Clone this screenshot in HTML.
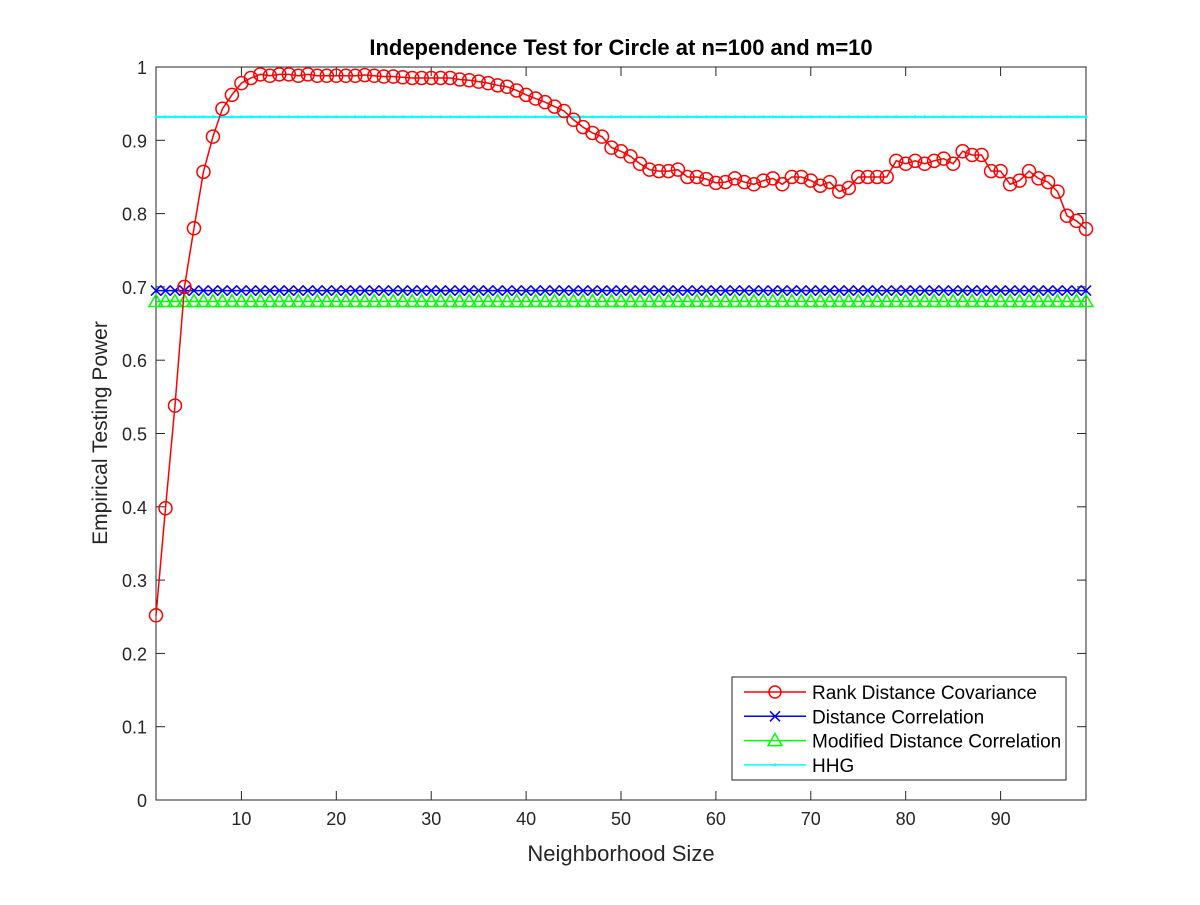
<!DOCTYPE html>
<html><head><meta charset="utf-8"><style>
body{margin:0;background:#fff;}
svg text{font-family:"Liberation Sans",sans-serif;}
</style></head><body>
<svg id="chart" width="1200" height="900" xmlns="http://www.w3.org/2000/svg">
<rect width="1200" height="900" fill="#fff"/>
<g id="plot"></g>
<text x="621" y="55" text-anchor="middle" font-size="22" font-weight="bold">Independence Test for Circle at n=100 and m=10</text>
<text x="621" y="861" text-anchor="middle" font-size="22" fill="#262626">Neighborhood Size</text>
<text transform="translate(107,433) rotate(-90)" text-anchor="middle" font-size="21" fill="#262626">Empirical Testing Power</text>
</svg>
<script>
const xs = Array.from({length:99},(_,i)=>i+1);
const rankDcov = [0.252,0.398,0.538,0.70,0.78,0.857,0.905,0.943,0.962,0.978,0.985,0.99,0.988,0.99,0.99,0.988,0.99,0.988,0.988,0.988,0.988,0.988,0.989,0.988,0.987,0.987,0.986,0.985,0.985,0.985,0.985,0.985,0.983,0.982,0.98,0.978,0.975,0.973,0.968,0.962,0.957,0.952,0.946,0.94,0.928,0.918,0.91,0.905,0.89,0.885,0.878,0.868,0.86,0.858,0.858,0.86,0.85,0.85,0.847,0.842,0.843,0.848,0.843,0.84,0.845,0.848,0.84,0.85,0.85,0.845,0.838,0.843,0.83,0.835,0.85,0.85,0.85,0.85,0.872,0.868,0.872,0.868,0.872,0.875,0.868,0.885,0.88,0.88,0.858,0.858,0.84,0.845,0.858,0.848,0.843,0.83,0.797,0.79,0.779];
const dcorr = 0.695;
const mdcorr = 0.68;
const hhg = 0.932;
const xTicks = [10,20,30,40,50,60,70,80,90];
const yTicks = [0,0.1,0.2,0.3,0.4,0.5,0.6,0.7,0.8,0.9,1];
const yTickLabels = ['0','0.1','0.2','0.3','0.4','0.5','0.6','0.7','0.8','0.9','1'];

const L=156,R=1086,T=67,B=800;
const X=v=>L+(v-1)/(99-1)*(R-L);
const Y=v=>B-v*(B-T);
const NS='http://www.w3.org/2000/svg';
const g=document.getElementById('plot');
function mk(tag,attrs,parent){const e=document.createElementNS(NS,tag);for(const k in attrs)e.setAttribute(k,attrs[k]);(parent||g).appendChild(e);return e;}

const frame=mk('rect',{x:L,y:T,width:R-L,height:B-T,fill:'#fff',stroke:'#262626','stroke-width':1});



xTicks.forEach(t=>{
  mk('line',{x1:X(t),x2:X(t),y1:B,y2:B-9,stroke:'#262626'});
  mk('line',{x1:X(t),x2:X(t),y1:T,y2:T+9,stroke:'#262626'});
  const tx=mk('text',{x:X(t),y:B+25,'text-anchor':'middle','font-size':18,fill:'#262626'});
  tx.textContent=t;
  
  
});
yTicks.forEach((t,i)=>{
  mk('line',{x1:L,x2:L+9,y1:Y(t),y2:Y(t),stroke:'#262626'});
  mk('line',{x1:R,x2:R-9,y1:Y(t),y2:Y(t),stroke:'#262626'});
  const tx=mk('text',{x:L-9,y:Y(t)+7,'text-anchor':'end','font-size':18,fill:'#262626'});
  tx.textContent=yTickLabels[i];
  
  
});

// HHG
const hl=mk('line',{x1:X(1),x2:X(99),y1:Y(hhg),y2:Y(hhg),stroke:'#00ffff','stroke-width':2});


xs.forEach(x=>mk('circle',{cx:X(x),cy:Y(hhg),r:1.5,fill:'#00ffff'}));
// mdcorr
const ml=mk('line',{x1:X(1),x2:X(99),y1:Y(mdcorr),y2:Y(mdcorr),stroke:'#00ff00','stroke-width':1.5});


xs.forEach(x=>{const cx=X(x),cy=Y(mdcorr);mk('polygon',{points:`${cx},${cy-7} ${cx-7},${cy+5} ${cx+7},${cy+5}`,fill:'none',stroke:'#00ff00','stroke-width':1.5});});
// dcorr
const dl=mk('line',{x1:X(1),x2:X(99),y1:Y(dcorr),y2:Y(dcorr),stroke:'#0000ff','stroke-width':1.5});


xs.forEach(x=>{const cx=X(x),cy=Y(dcorr);mk('path',{d:`M${cx-5},${cy-5}L${cx+5},${cy+5}M${cx-5},${cy+5}L${cx+5},${cy-5}`,stroke:'#0000ff','stroke-width':1.5});});
// rank dcov
const rl=mk('polyline',{points:xs.map((x,i)=>X(x)+','+Y(rankDcov[i])).join(' '),fill:'none',stroke:'#ff0000','stroke-width':1.5});


xs.forEach((x,i)=>{const c=mk('circle',{cx:X(x),cy:Y(rankDcov[i]),r:6.5,fill:'none',stroke:'#ff0000','stroke-width':1.5});
  
  });

// legend
const lg=mk('g',{});


mk('rect',{x:732,y:677,width:334,height:103,fill:'#fff',stroke:'#262626'},lg);
const names=['Rank Distance Covariance','Distance Correlation','Modified Distance Correlation','HHG'];
const cols=['#ff0000','#0000ff','#00ff00','#00ffff'];
names.forEach((n,i)=>{
  const y=692+i*24.3;
  mk('line',{x1:744,x2:806,y1:y,y2:y,stroke:cols[i],'stroke-width':1.5},lg);
  const cx=775;
  if(i==0) mk('circle',{cx,cy:y,r:6,fill:'none',stroke:cols[i],'stroke-width':1.5},lg);
  if(i==1) mk('path',{d:`M${cx-5},${y-5}L${cx+5},${y+5}M${cx-5},${y+5}L${cx+5},${y-5}`,stroke:cols[i],'stroke-width':1.5},lg);
  if(i==2) mk('polygon',{points:`${cx},${y-7} ${cx-7},${y+5} ${cx+7},${y+5}`,fill:'none',stroke:cols[i],'stroke-width':1.5},lg);
  if(i==3) mk('circle',{cx,cy:y,r:1.5,fill:cols[i]},lg);
  const t=mk('text',{x:812,y:y+7,'font-size':19,fill:'#000'},lg);
  t.textContent=n;
  
  
});
</script>
</body></html>
